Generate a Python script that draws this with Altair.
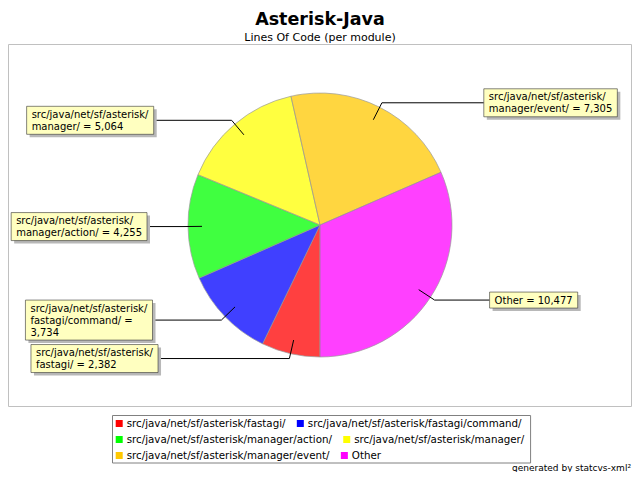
import math
import re
import altair as alt
import pandas as pd

# ---------------- data ----------------
names = [
    "src/java/net/sf/asterisk/fastagi/",
    "src/java/net/sf/asterisk/fastagi/command/",
    "src/java/net/sf/asterisk/manager/action/",
    "src/java/net/sf/asterisk/manager/",
    "src/java/net/sf/asterisk/manager/event/",
    "Other",
]
values = [2382, 3734, 4255, 5064, 7305, 10477]
colors = ["#FF0000", "#0000FF", "#00FF00", "#FFFF00", "#FFC800", "#FF00FF"]

title_text = "Asterisk-Java"
subtitle_text = "Lines Of Code (per module)"
footer_text = "generated by statcvs-xml\u00b2"

# ---------------- layout constants ----------------
W, H = 624, 464
CX, CY = 312, 217          # pie centre (chart pixels)
R = 132                    # pie radius
R_ANCHOR, R_ELBOW = 118, 137
LAB_A, LAB_B = 173, 380    # ellipse on which the label boxes sit
FONT = "DejaVu Sans"
LABEL_SIZE = 10
LINE_H = 12
PAD = 5
WRAP = 130

LEG_SIZE = 10.3
LEG_X0, LEG_Y0 = 104, 407
LEG_ROW0, LEG_ROW_H = 415.5, 16
LEG_SW = 7
LEG_GAP = 11

ADV = {" ": 318, ",": 318, "/": 337, "=": 838, "O": 787, "a": 613, "c": 550,
       "d": 635, "e": 615, "f": 352, "g": 635, "h": 634, "i": 278, "j": 278,
       "k": 579, "m": 974, "n": 634, "o": 612, "r": 411, "s": 521, "t": 392,
       "v": 592, "l": 278, "u": 634}
for dch in "0123456789":
    ADV[dch] = 636


def text_w(s, size=LABEL_SIZE):
    return sum(ADV.get(ch, 600) for ch in s) * size / 1000.0


def wrap(s):
    tokens = re.findall(r"[^/ ]*[/ ]|[^/ ]+$", s)
    lines, cur = [], ""
    for t in tokens:
        if cur and text_w((cur + t).rstrip()) > WRAP:
            lines.append(cur.rstrip())
            cur = t.lstrip()
        else:
            cur += t
    if cur:
        lines.append(cur.rstrip())
    return lines


rows = []
for i, (n, v) in enumerate(zip(names, values)):
    lines = wrap(f"{n} = {v:,}")
    rows.append({
        "name": n, "value": v, "idx": i,
        "label": "\n".join(lines),
        "nlines": len(lines),
        "tw": max(text_w(l) for l in lines),
    })
df = pd.DataFrame(rows)

# legend (flow layout, two entries per row)
leg_rows = []
cursor = {}
for i, n in enumerate(names):
    r = i // 2
    x = cursor.get(r, LEG_X0 + 3.7)
    leg_rows.append({"name": n, "sx1": x, "sx2": x + LEG_SW,
                     "sy1": LEG_ROW0 + r * LEG_ROW_H - LEG_SW / 2,
                     "sy2": LEG_ROW0 + r * LEG_ROW_H + LEG_SW / 2,
                     "tx": x + LEG_SW + 4, "ty": LEG_ROW0 + r * LEG_ROW_H + 0.5})
    cursor[r] = x + LEG_SW + 4 + text_w(n, LEG_SIZE) + LEG_GAP
leg_df = pd.DataFrame(leg_rows)
n_rows = max(cursor) + 1
leg_box = pd.DataFrame([{
    "x1": LEG_X0 + 0.5, "x2": max(cursor.values()) - LEG_GAP + 6,
    "y1": LEG_Y0 + 0.5, "y2": LEG_ROW0 + (n_rows - 1) * LEG_ROW_H + 7.5,
}])

xs = alt.Scale(domain=[0, W], range=[0, W], nice=False, zero=False)
ys = alt.Scale(domain=[0, H], range=[0, H], nice=False, zero=False)
cs = alt.Scale(domain=names, range=colors)


def X(f):
    return alt.X(f"{f}:Q", scale=xs, axis=None)


def Y(f):
    return alt.Y(f"{f}:Q", scale=ys, axis=None)


one = pd.DataFrame({"t": [0]})

# plot frame
frame = alt.Chart(one).mark_rect(fillOpacity=0, stroke="#C0C0C0", strokeWidth=1).encode(
    x=alt.value(0.5), x2=alt.value(W - 0.5), y=alt.value(36.5), y2=alt.value(398.5)
)

# pie
pie = alt.Chart(df).mark_arc(
    outerRadius=R, fillOpacity=0.75, stroke="#9A9A9A", strokeWidth=0.7
).encode(
    theta=alt.Theta("value:Q", stack=True,
                    scale=alt.Scale(range=[math.pi, 3 * math.pi])),
    order=alt.Order("idx:Q"),
    color=alt.Color("name:N", scale=cs, legend=None),
    x=alt.value(CX),
    y=alt.value(CY),
)

geo = (
    alt.Chart(df)
    .transform_window(cum="sum(value)", sort=[alt.SortField("idx", order="ascending")],
                      frame=[None, 0])
    .transform_joinaggregate(total="sum(value)")
    .transform_calculate(mid="PI + 2*PI*(datum.cum - datum.value/2)/datum.total")
    .transform_calculate(ax=f"{CX} + {R_ANCHOR}*sin(datum.mid)")
    .transform_calculate(ay=f"{CY} - {R_ANCHOR}*cos(datum.mid)")
    .transform_calculate(ex=f"{CX} + {R_ELBOW}*sin(datum.mid)")
    .transform_calculate(ey=f"{CY} - {R_ELBOW}*cos(datum.mid)")
    .transform_calculate(side="sin(datum.mid) < 0 ? -1 : 1")
    .transform_calculate(
        edge=f"{CX} + datum.side*{LAB_A}*sqrt(max(0, 1 - pow((datum.ey - {CY})/{LAB_B}, 2)))")
    .transform_calculate(bw=f"datum.tw + {2 * PAD}")
    .transform_calculate(bh=f"datum.nlines*{LINE_H} + 4")
    .transform_calculate(bx1="datum.side < 0 ? datum.edge - datum.bw : datum.edge")
    .transform_calculate(bx2="datum.bx1 + datum.bw")
    .transform_calculate(by1="datum.ey - datum.bh/2")
    .transform_calculate(by2="datum.ey + datum.bh/2")
    .transform_calculate(sx1="datum.bx1 + 3", sx2="datum.bx2 + 3",
                         sy1="datum.by1 + 3", sy2="datum.by2 + 3")
    .transform_calculate(tx=f"datum.bx1 + {PAD}")
    .transform_calculate(ty=f"datum.ey - (datum.nlines - 1)*{LINE_H}/2 + 0.5")
)

link1 = geo.mark_rule(color="black", strokeWidth=1).encode(
    x=X("ax"), y=Y("ay"), x2=alt.X2("ex"), y2=alt.Y2("ey"))
link2 = geo.mark_rule(color="black", strokeWidth=1).encode(
    x=X("ex"), x2=alt.X2("edge"), y=Y("ey"))
shadow = geo.mark_rect(color="#B8B8B8").encode(
    x=X("sx1"), x2=alt.X2("sx2"), y=Y("sy1"), y2=alt.Y2("sy2"))
box = geo.mark_rect(fill="#FFFFC0", stroke="#333333", strokeWidth=0.6).encode(
    x=X("bx1"), x2=alt.X2("bx2"), y=Y("by1"), y2=alt.Y2("by2"))
txt = geo.mark_text(align="left", baseline="middle", lineBreak="\n",
                    lineHeight=LINE_H, font=FONT, fontSize=LABEL_SIZE,
                    color="black").encode(x=X("tx"), y=Y("ty"), text="label:N")

# legend
leg_frame = alt.Chart(leg_box).mark_rect(
    fillOpacity=0, stroke="#808080", strokeWidth=1).encode(
    x=X("x1"), x2=alt.X2("x2"), y=Y("y1"), y2=alt.Y2("y2"))
leg_sw = alt.Chart(leg_df).mark_rect().encode(
    x=X("sx1"), x2=alt.X2("sx2"), y=Y("sy1"), y2=alt.Y2("sy2"),
    color=alt.Color("name:N", scale=cs, legend=None))
leg_txt = alt.Chart(leg_df).mark_text(
    align="left", baseline="middle", font=FONT, fontSize=LEG_SIZE,
    color="black").encode(x=X("tx"), y=Y("ty"), text="name:N")

title = alt.Chart(pd.DataFrame({"t": [title_text]})).mark_text(
    font=FONT, fontSize=17.5, fontWeight="bold", color="black",
    align="center", baseline="alphabetic").encode(
    text="t:N", x=alt.value(W / 2), y=alt.value(17))
subtitle = alt.Chart(pd.DataFrame({"t": [subtitle_text]})).mark_text(
    font=FONT, fontSize=11, color="black", align="center",
    baseline="alphabetic").encode(text="t:N", x=alt.value(W / 2), y=alt.value(32.5))
footer = alt.Chart(pd.DataFrame({"t": [footer_text]})).mark_text(
    font=FONT, fontSize=9, color="black", align="right",
    baseline="alphabetic").encode(text="t:N", x=alt.value(W - 1), y=alt.value(463))

chart = alt.layer(
    frame, pie, link1, link2, shadow, box, txt,
    leg_frame, leg_sw, leg_txt, title, subtitle, footer
).properties(
    width=W, height=H, autosize=alt.AutoSizeParams(type="none"), padding=0,
    background="white",
).configure_view(stroke=None)

chart.save("out.html", embed_options={"renderer": "svg", "actions": False})
